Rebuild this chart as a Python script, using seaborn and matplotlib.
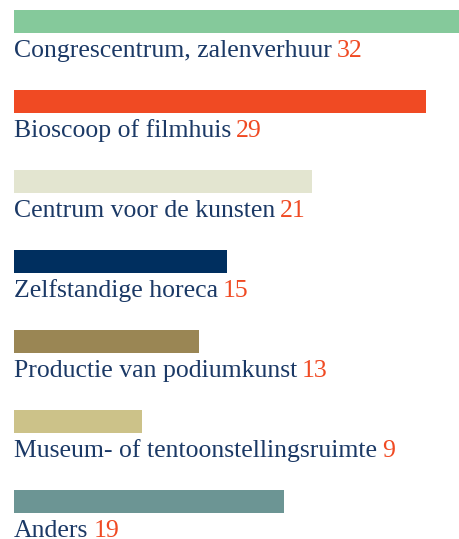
import matplotlib
import pandas as pd
from matplotlib import pyplot as plt
import seaborn as sns

categories = [
    "Congrescentrum, zalenverhuur",
    "Bioscoop of filmhuis",
    "Centrum voor de kunsten",
    "Zelfstandige horeca",
    "Productie van podiumkunst",
    "Museum- of tentoonstellingsruimte",
    "Anders",
]
values = [32, 29, 21, 15, 13, 9, 19]
colors = ["#85C99B", "#F04A23", "#E3E5D0", "#002F5F", "#9A8654", "#CCC289", "#6C9594"]

df = pd.DataFrame({"cat": categories, "n": values})

sns.set_style("white")
plt.rcParams["font.family"] = ["Liberation Serif", "DejaVu Serif"]

fig = plt.figure(figsize=(4.59, 5.39), dpi=100)
ax = fig.add_axes([0, 0, 1, 1])

sns.barplot(data=df, x="n", y="cat", hue="cat", palette=colors, legend=False,
            orient="h", width=23 / 80, saturation=1, linewidth=0, ax=ax)

# 14.2 px per unit, bars start 14 px from the left edge
px = 14.2
ax.set_xlim(-14 / px, 445 / px)
ax.set_ylim((539 - 21.5) / 80, -21.5 / 80)
ax.axis("off")

for i, (c, v) in enumerate(zip(categories, values)):
    t = ax.text(0, i + 0.445, c, fontsize=18.5, color="#1B3966", va="baseline", ha="left")
    ax.annotate(str(v), xy=(1, 0), xycoords=t, xytext=(3.5, 0), textcoords="offset points",
                fontsize=18.5, color="#F04A23", va="bottom", ha="left")

fig.savefig("out.png", dpi=100)
